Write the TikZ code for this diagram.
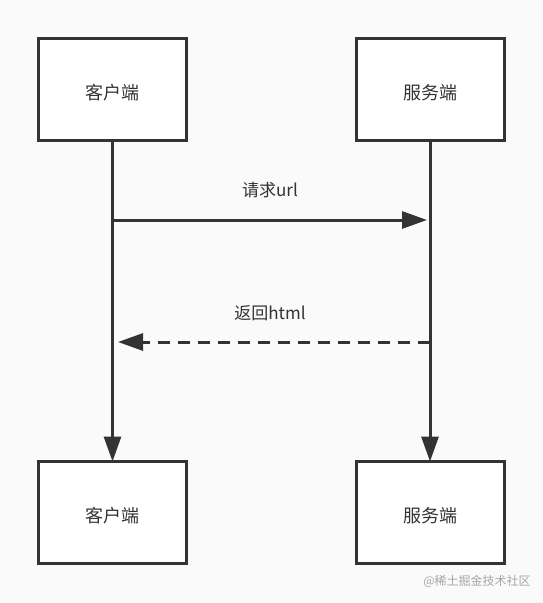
\documentclass[tikz,border=0pt]{standalone}
\usepackage{fontspec}
\setmainfont{Noto Sans CJK SC}
\usetikzlibrary{arrows.meta}

\definecolor{inkgray}{HTML}{333333}
\definecolor{bggray}{HTML}{FAFAFA}
\tikzset{
  party/.style={draw=inkgray,line width=3pt,fill=white,minimum width=148pt,minimum height=102pt,
    font=\fontsize{18}{20}\selectfont,text=inkgray,inner sep=0pt,text height=22pt,text depth=2pt},
  msg/.style={draw=inkgray,line width=3pt,-{Triangle[length=25pt,width=17pt]}},
  msglabel/.style={font=\fontsize{17}{20}\selectfont,text=inkgray}
}

\begin{document}
\begin{tikzpicture}[x=1pt,y=-1pt]
            \fill[bggray] (0,0) rectangle (543,603);
            \useasboundingbox (0,0) rectangle (543,603);
            \node[party] at (112.5,89.5) (client) {客户端};
            \node[party] at (430,89.5) (server) {服务端};
            \node[party] at (112.5,512.5) (clientb) {客户端};
            \node[party] at (430,512.5) (serverb) {服务端};
            \coordinate (reqs) at (112.5,220);
            \coordinate (reqe) at (427,220);
            \coordinate (ress) at (430,342);
            \coordinate (rese) at (118,342);
            \draw[msg] (client.south) to ([yshift=-1.5pt]clientb.north);
            \draw[msg] (server.south) to ([yshift=-1.5pt]serverb.north);
            \draw[msg] (reqs) to (reqe);
            \draw[msg,dash pattern=on 12pt off 8pt] (ress) to (rese);
            \node[msglabel] at (270,190) (req) {请求url};
            \node[msglabel] at (270,313) (res) {返回html};
            \node[font=\fontsize{12}{14}\selectfont,text=black!35] at (477,581) (mark) {@稀土掘金技术社区};
        \end{tikzpicture}
\end{document}
